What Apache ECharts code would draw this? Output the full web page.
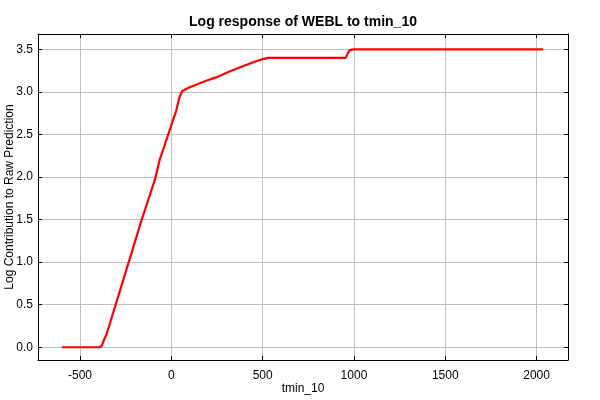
<!DOCTYPE html>
<html>
<head>
<meta charset="utf-8">
<script src="https://cdn.jsdelivr.net/npm/echarts@6/dist/echarts.min.js"></script>
<style>
html,body{margin:0;padding:0;background:#fff;}
#c{width:600px;height:400px;}
</style>
</head>
<body>
<div id="c"></div>
<script>
// Data
var tmin10 = [-599, -393, -380, -370, -355, -302, -229, -165, -91, -64, -37, -9, 27, 45, 60, 96, 118, 191, 245, 318, 391, 464, 500, 530, 955, 965, 977, 1000, 2036];
var logContribution = [0, 0, 0.02, 0.08, 0.15, 0.52, 1.03, 1.48, 1.96, 2.20, 2.37, 2.55, 2.78, 2.94, 3.01, 3.05, 3.07, 3.13, 3.17, 3.24, 3.30, 3.36, 3.385, 3.40, 3.40, 3.45, 3.49, 3.50, 3.50];
var titleText = 'Log response of WEBL to tmin_10';
var xName = 'tmin_10';
var yName = 'Log Contribution to Raw Prediction';

var pts = tmin10.map(function (x, i) { return [x, logContribution[i]]; });
var font = 'Liberation Sans, Arial, sans-serif';
var xMin = -730, xMax = 2172, yMin = -0.15, yMax = 3.68;

var chart = echarts.init(document.getElementById('c'), null, {renderer: 'canvas'});
chart.setOption({
  animation: false,
  backgroundColor: '#ffffff',
  title: {
    text: titleText, left: 303, top: 15, textAlign: 'center', padding: 0,
    textStyle: {fontFamily: font, fontSize: 14, fontWeight: 'bold', color: '#000'}
  },
  grid: {left: 38, right: 32, top: 34, bottom: 40, show: false, containLabel: false, outerBoundsMode: 'none'},
  xAxis: [{
    type: 'value', min: xMin, max: xMax, splitNumber: 5,
    name: xName, nameLocation: 'middle', nameGap: 23, nameMoveOverlap: false,
    nameTextStyle: {fontFamily: font, fontSize: 12, color: '#000'},
    axisLine: {show: true, onZero: false, lineStyle: {color: '#000', width: 1}},
    axisTick: {show: true, inside: true, length: 4, lineStyle: {color: '#000'}},
    axisLabel: {fontFamily: font, fontSize: 12, color: '#000', margin: 10, showMinLabel: false, showMaxLabel: false,
      formatter: function (v) { return String(v); }},
    splitLine: {show: true, lineStyle: {color: '#c0c0c0', width: 1}}
  }, {
    type: 'value', position: 'top', min: xMin, max: xMax, splitNumber: 5,
    axisLine: {show: true, onZero: false, lineStyle: {color: '#000', width: 1}},
    axisTick: {show: true, inside: true, length: 4, lineStyle: {color: '#000'}},
    axisLabel: {show: false}, splitLine: {show: false}
  }],
  yAxis: [{
    type: 'value', min: yMin, max: yMax, splitNumber: 7,
    name: yName, nameLocation: 'middle', nameGap: 22, nameMoveOverlap: false,
    nameTextStyle: {fontFamily: font, fontSize: 12, color: '#000'},
    axisLine: {show: true, onZero: false, lineStyle: {color: '#000', width: 1}},
    axisTick: {show: true, inside: true, length: 4, lineStyle: {color: '#000'}},
    axisLabel: {fontFamily: font, fontSize: 12, color: '#000', margin: 5, showMinLabel: false, showMaxLabel: false,
      formatter: function (v) { return v.toFixed(1); }},
    splitLine: {show: true, lineStyle: {color: '#c0c0c0', width: 1}}
  }, {
    type: 'value', position: 'right', min: yMin, max: yMax, splitNumber: 7,
    axisLine: {show: true, onZero: false, lineStyle: {color: '#000', width: 1}},
    axisTick: {show: true, inside: true, length: 4, lineStyle: {color: '#000'}},
    axisLabel: {show: false}, splitLine: {show: false}
  }],
  series: [{
    type: 'line', data: pts, xAxisIndex: 0, yAxisIndex: 0,
    showSymbol: false, symbol: 'none',
    lineStyle: {color: '#ff0000', width: 2.2},
    itemStyle: {color: '#ff0000'}
  }]
});
</script>
</body>
</html>
